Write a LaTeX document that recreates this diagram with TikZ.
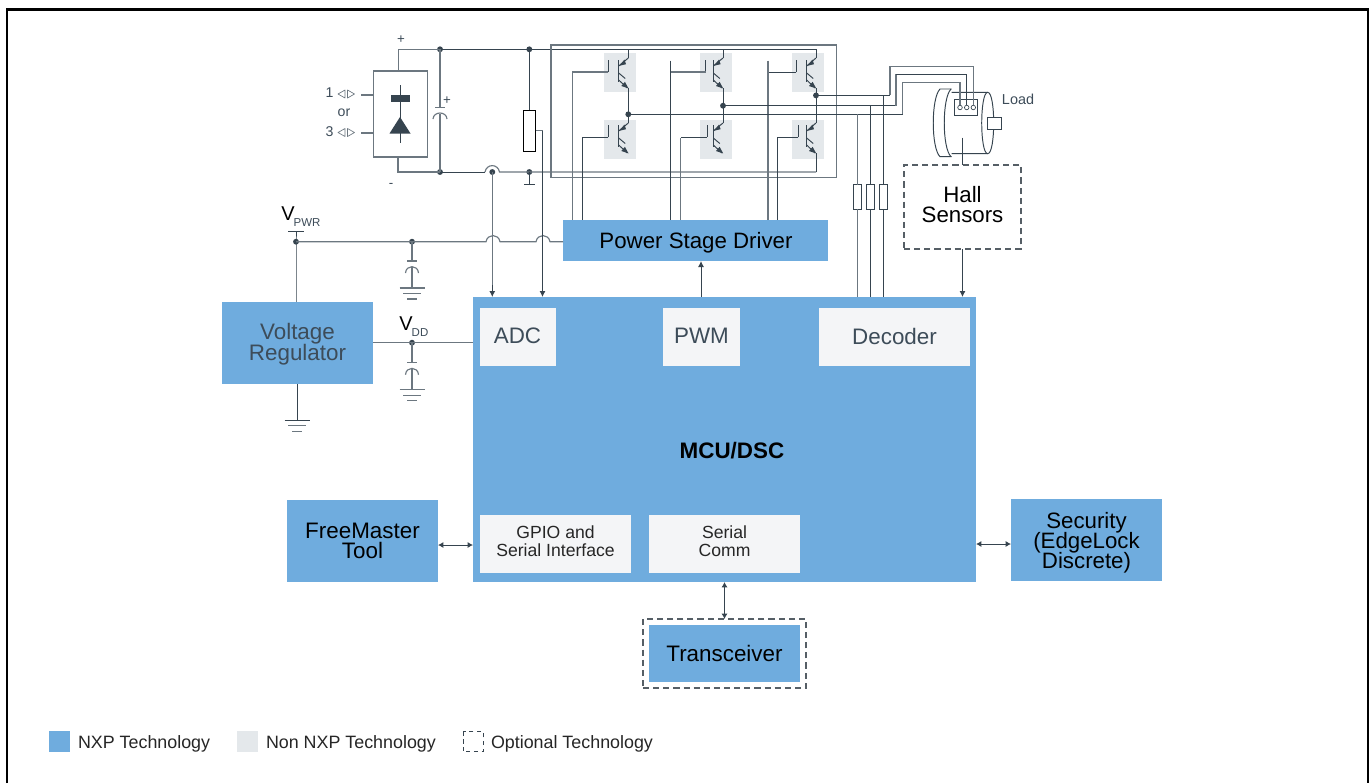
\documentclass[tikz,border=0pt]{standalone}
\usepackage{fontspec}
\setmainfont{Liberation Sans}
\usetikzlibrary{arrows.meta}
\definecolor{nxpblue}{HTML}{6FACDE}
\definecolor{lightbox}{HTML}{F4F5F7}
\definecolor{nonnxp}{HTML}{E4E8EB}
\definecolor{wire}{HTML}{36444F}
\definecolor{wiregrey}{HTML}{6C7780}
\definecolor{softtext}{HTML}{3D4C59}
\newcommand{\fs}[2]{\fontsize{#1}{#2}\selectfont\lineskiplimit=-20pt\relax}
\tikzset{
  sz/.style 2 args={minimum width=#1*0.75pt,minimum height=#2*0.75pt,inner sep=0pt,outer sep=0pt},
  nxpbox/.style={fill=nxpblue,text=black,align=center,font=\fs{16.8}{15}},
  chiplabel/.style={inner sep=0pt,outer sep=0pt,text=softtext,font=\fs{16.8}{15}},
  smalltext/.style={inner sep=0pt,outer sep=0pt,text=black!85,align=center,font=\fs{13.2}{13.4}},
  dashbox/.style={draw=wiregrey!80!black,line width=0.8pt,dash pattern=on 4.6pt off 3pt},
  wr/.style={draw=wire,line width=0.72pt},
  wg/.style={draw=wiregrey,line width=0.85pt},
  arr/.style={wr,-{Latex[length=4.5pt,width=4.5pt]}},
  darr/.style={wr,{Latex[length=4pt,width=4.5pt]}-{Latex[length=4pt,width=4.5pt]}},
  dot/.style={circle,fill=wire,inner sep=0pt,minimum size=4.4pt,outer sep=0pt},
  txt/.style={inner sep=0pt,outer sep=0pt,text=black},
  legend/.style={inner sep=0pt,outer sep=0pt,anchor=west,text=black!85,font=\fs{13.4}{15}},
  tri/.style={fill=wire,draw=none}
}
% switch: #1 collector x, #2 bar x, #3 gate x, #4 collector start y
\newcommand{\igbt}[4]{%
  \draw[wr] (#3,#4+2) -- (#3,#4+14);
  \draw[wr,line width=0.9pt] (#2,#4+2) -- (#2,#4+24);
  \draw[wr] (#1,#4) -- (#2,#4+8);
  \fill[tri] (#2+0.5,#4+7.8) -- (#2+5.8,#4+1.5) -- (#2+7.3,#4+6.2) -- cycle;
  \draw[wr] (#2,#4+15) -- (#2+6.5,#4+20.5);
  \draw[wr] (#2,#4+22) -- (#1-1,#4+30);
  \fill[tri] (#1+0.2,#4+30.4) -- (#1-7,#4+28) -- (#1-3.4,#4+23.8) -- cycle;
}
% capacitor with ground: #1 x, #2 top y, #3 plate y
\newcommand{\capgnd}[3]{%
  \draw[wg] (#1,#2) -- (#1,#3);
  \draw[wg] (#1-5,#3) -- (#1+5,#3);
  \draw[wg] (#1-6.5,#3+12) .. controls (#1-6,#3+3.5) and (#1+6,#3+3.5) .. (#1+6.5,#3+12);
  \draw[wg] (#1,#3+6) -- (#1,#3+27);
  \draw[wg] (#1-12.5,#3+27) -- (#1+12.5,#3+27);
  \draw[wg] (#1-9,#3+32.5) -- (#1+9,#3+32.5);
  \draw[wg] (#1-5,#3+38) -- (#1+5,#3+38);
}
\begin{document}
\begin{tikzpicture}[x=0.75pt,y=-0.75pt]
\useasboundingbox (0,0) rectangle (1370,783);
\fill[white] (0,0) rectangle (1370,783);
% frame
\draw[black,line width=2pt] (7,783) -- (7,9.5) -- (1368,9.5) -- (1368,783);

% switch backgrounds
\foreach \gx in {604,700,792}{
  \fill[nonnxp] (\gx,53) rectangle (\gx+32,92);
  \fill[nonnxp] (\gx,120) rectangle (\gx+32,158.5);
}

% blocks
\node[sz={503}{285},fill=nxpblue] (mcu) at (724.5,439.5) {};
\node[txt,font=\bfseries\fs{16.8}{15}] (mculabel) at (732,450.5) {MCU/DSC};
\node[sz={265}{41},fill=nxpblue] (driver) at (695.5,240.5) {};
\node[txt,font=\fs{16.7}{15}] (driverlabel) at (696,243) {Power Stage Driver};
\node[sz={151}{82},fill=nxpblue] (vreg) at (297.5,343) {};
\node[txt,text=softtext,align=center,font=\fs{16.8}{15.7}] (vreglabel) at (297.5,344.5) {Voltage\\Regulator};
\node[sz={76}{58},fill=lightbox] (adc) at (518,337) {};
\node[chiplabel] (adclabel) at (517.5,336) {ADC};
\node[sz={77}{58},fill=lightbox] (pwm) at (701.5,337) {};
\node[chiplabel] (pwmlabel) at (701.5,336) {PWM};
\node[sz={151}{58},fill=lightbox] (decoder) at (894.5,337) {};
\node[chiplabel] (decoderlabel) at (894.5,336) {Decoder};
\node[sz={151}{58},fill=lightbox] (gpio) at (555.5,544) {};
\node[smalltext] (gpiolabel) at (555.5,541) {GPIO and\\Serial Interface};
\node[sz={151}{58},fill=lightbox] (serial) at (724.5,544) {};
\node[smalltext] (seriallabel) at (724.5,541) {Serial\\Comm};
\node[sz={151}{82},nxpbox] (free) at (362.5,541) {FreeMaster\\Tool};
\node[sz={151}{82},fill=nxpblue] (sec) at (1086.5,540) {};
\node[txt,align=center,font=\fs{16.7}{15}] (seclabel) at (1086.5,543) {Security\\(EdgeLock\\Discrete)};
\node[sz={151}{57},nxpbox] (trans) at (724.5,653.5) {Transceiver};
\node[sz={163}{69},dashbox] (transopt) at (724.5,653.5) {};
\node[sz={117}{84},dashbox] (hall) at (962.5,207) {};
\node[txt,align=center,font=\fs{16.7}{15}] (halllabel) at (962.5,205) {Hall\\Sensors};

% rectifier
\node[sz={54}{86},draw=wiregrey,line width=0.85pt] (rect) at (400.5,114) {};
\coordinate (lead1) at (361,95);
\coordinate (lead3) at (361,133);
\draw[wg] (lead1) -- (lead1 -| rect.west);
\draw[wg] (lead3) -- (lead3 -| rect.west);
\draw[wr] (400,85) -- (400,143);
\fill[wire] (391,95) rectangle (409.5,102);
\fill[wire] (400,117) -- (410.5,133.5) -- (389.5,133.5) -- cycle;
\node[txt,font=\fs{10.6}{12},text=softtext] (in1) at (329.5,93) {1};
\node[txt,font=\fs{10.6}{12},text=softtext] (or) at (344,113) {or};
\node[txt,font=\fs{10.6}{12},text=softtext] (in3) at (329.5,132) {3};
\foreach \ty in {94,132.5}{
  \draw[wiregrey,line width=0.5pt,line join=round] (345,\ty-4) -- (338,\ty) -- (345,\ty+4) -- cycle;
  \draw[wiregrey,line width=0.5pt,line join=round] (347.5,\ty-4) -- (354.5,\ty) -- (347.5,\ty+4) -- cycle;
}
\node[txt,font=\fs{10}{10},text=softtext] (plus) at (401,40) {+};
\node[txt,font=\fs{10}{10},text=softtext] (minus) at (391,185) {-};
\node[txt,font=\fs{10}{10},text=softtext] (capplus) at (447,101) {+};

% rails
\node[dot] (t1) at (440,49.3) {};
\node[dot] (t2) at (529.3,49.3) {};
\node[dot] (b1) at (440,172) {};
\node[dot] (b2) at (529.3,172) {};
\node[dot] (badc) at (492.3,172) {};
\draw[wg] (rect.north -| 398.7,0) -- (398.7,49.3) -- (t1.center);
\draw[wr] (t1.center) -- (t2.center) -- (816,49.3);
\draw[wg] (398,157) -- (398,172) -- (b1.center);
\draw[wr] (b1.center) -- (485,172);
\draw[wg] (485,172) .. controls (486.5,163.5) and (498,163.5) .. (499.5,172) -- (b2.center) -- (816,172);
% DC link capacitor
\draw[wg] (t1.center) -- (440,107.7);
\draw[wg] (435,107.7) -- (445,107.7);
\draw[wg] (433,119) .. controls (433.5,111) and (446.5,111) .. (447,119);
\draw[wg] (440,113.5) -- (b1.center);

% shunt
\node[sz={12.5}{41},draw=black,line width=0.7pt,fill=white] (shunt) at (529.3,130.5) {};
\draw[wr] (t2.center) -- (shunt.north);
\draw[wr] (b2.center) -- (529.3,184.5);
\draw[wr] (524,184.5) -- (534.5,184.5);

% outer enclosure
\draw[wiregrey,line width=0.95pt] (551,45) rectangle (836.7,177.7);

% switches
\igbt{628.3}{618.7}{608.3}{58}
\igbt{628.3}{618.7}{608.3}{123}
\igbt{723}{713.3}{705.7}{58}
\igbt{723}{713.3}{707}{123}
\igbt{816}{806.7}{796.3}{58}
\igbt{816}{806.7}{798.3}{123}
% phase nodes
\node[dot] (ph1) at (628.3,114.3) {};
\node[dot] (ph2) at (723,105.7) {};
\node[dot] (ph3) at (816,95.4) {};
\draw[wr] (628.3,49.3) -- (628.3,58);
\draw[wr] (723,49.3) -- (723,58);
\draw[wr] (816,49.3) -- (816,58);
\draw[wr] (628.3,88) -- (ph1.center) -- (628.3,123);
\draw[wr] (723,88) -- (ph2.center) -- (723,123);
\draw[wr] (816,88) -- (ph3.center) -- (816,123);
\draw[wr] (816,153) -- (816,172);
% gates
\draw[wg] (608.3,72) -- (572.7,72) -- (572.7,220);
\draw[wr] (608.3,137.7) -- (582,137.7) -- (582,220);
\draw[wg] (705.7,72) -- (670.3,72);
\draw[wr] (670.3,60.7) -- (670.3,220);
\draw[wr] (707,137.7) -- (680.7,137.7);
\draw[wg] (680.7,137.7) -- (680.7,220);
\draw[wr] (796.3,72) -- (768,72);
\draw[wg] (768,60.7) -- (768,220);
\draw[wr] (798.3,137.7) -- (777.3,137.7) -- (777.3,220);

% motor
\draw[wr,fill=white] (951.7,92.3) -- (987.7,92.3) .. controls (995.7,92.3) and (995.7,153.7) .. (987.7,153.7) -- (951.7,153.7);
\draw[wr] (987.7,92.3) .. controls (979.7,92.3) and (979.7,153.7) .. (987.7,153.7);
\draw[wr] (951.7,89) -- (940,89) .. controls (931,98) and (931,148) .. (940,156.7) -- (951.7,156.7);
\draw[wr] (951,89) .. controls (942,98) and (942,148) .. (951,156.7);
\node[sz={14.5}{11.5},draw=wire,line width=0.72pt,fill=white] (shaft) at (994.7,123.3) {};
\node[txt,font=\fs{10.8}{12},text=softtext] (load) at (1018,99) {Load};
\node[sz={23}{16},draw=wire,line width=0.72pt,fill=white] (term) at (966.3,107.2) {};
\foreach \px/\pn in {960/pa,966.7/pb,973.3/pc}{
  \node[circle,draw=wire,line width=0.5pt,inner sep=0pt,minimum size=3.4pt] (\pn) at (\px,107.5) {};
}
% phase outputs
\draw[wr] (ph3.center) -- (890,95.4);
\draw[wg] (890,95.4) -- (890,66.7) -- (973.3,66.7) -- (pc.north);
\draw[wr] (ph2.center) -- (896,105.7);
\draw[wg] (896,105.7) -- (896,74.3);
\draw[wr] (896,74.3) -- (966.7,74.3) -- (pb.north);
\draw[wr] (ph1.center) -- (902.7,114.3);
\draw[wg] (902.7,114.3) -- (902.7,82.3) -- (960,82.3) -- (pa.north);
% sense resistors
\node[sz={8}{24.5},draw=wire,line width=0.72pt,fill=white] (r1) at (857.7,197.2) {};
\node[sz={8}{24.5},draw=wire,line width=0.72pt,fill=white] (r2) at (870.7,197.2) {};
\node[sz={8}{24.5},draw=wire,line width=0.72pt,fill=white] (r3) at (883.3,197.2) {};
\draw[wg] (857.7,114.3) -- (r1.north);
\draw[wr] (870.7,105.7) -- (r2.north);
\draw[wr] (883.3,95.4) -- (r3.north);
\draw[wg] (r1.south) -- (r1.south |- mcu.north);
\draw[wr] (r2.south) -- (r2.south |- mcu.north);
\draw[wr] (r3.south) -- (r3.south |- mcu.north);
% hall
\coordinate (hallin) at (962.3,137.7);
\draw[wr] (hallin) -- (hallin |- hall.north);
\draw[arr] (hall.south) -- (hall.south |- mcu.north);

% VPWR
\node[dot] (vp) at (296,241.7) {};
\node[dot] (vc) at (412,241.7) {};
\draw[wr] (vreg.north -| vp) -- (vp.center) -- (296,231);
\draw[wr] (288,231) -- (304,231);
\draw[wg] (vp.center) -- (vc.center) -- (486,241.7) .. controls (487.5,233.5) and (498.5,233.5) .. (500,241.7) -- (536,241.7) .. controls (537.5,233.5) and (548.5,233.5) .. (550,241.7) -- (driver.west |- vp);
\capgnd{412}{241.7}{261}
\node[txt,font=\fs{15}{15}] (vpwr) at (288,214) {V};
\node[txt,font=\fs{8.6}{10},text=softtext] (vpwrsub) at (307,222.3) {PWR};
% VDD
\node[dot] (vd) at (412,342.7) {};
\draw[wg] (vd -| vreg.east) -- (vd.center) -- (vd -| mcu.west);
\capgnd{412}{342.7}{362.7}
\node[txt,font=\fs{15}{15}] (vdd) at (406,324) {V};
\node[txt,font=\fs{8.6}{10},text=softtext] (vddsub) at (420,332.3) {DD};
% regulator ground
\coordinate (vgnd) at (297,420.3);
\draw[wr] (vgnd |- vreg.south) -- (vgnd);
\draw[wr] (284.5,420.3) -- (309.5,420.3);
\draw[wg] (288,425.7) -- (306,425.7);
\draw[wg] (292,431.5) -- (302,431.5);

% ADC feeds
\draw[wg] (badc.center) -- (492.3,290);
\draw[arr] (492.3,285) -- (492.3,297);
\coordinate (tap) at (542.5,130.5);
\draw[wg] (shunt.east |- tap) -- (tap);
\draw[arr] (tap) -- (tap |- mcu.north);
% PWM to driver
\draw[arr] (701,297) -- (701,261);
% bidirectional links
\draw[darr] (free.east |- 0,545) -- (mcu.west |- 0,545);
\draw[darr] (mcu.east |- 0,544) -- (sec.west |- 0,544);
\draw[darr] (serial.south |- mcu.south) -- (serial.south |- transopt.north);

% legend
\fill[nxpblue] (49,731) rectangle (70,752);
\node[legend] (l1) at (78,744) {NXP Technology};
\fill[nonnxp] (237,731) rectangle (258,752);
\node[legend] (l2) at (266,744) {Non NXP Technology};
\draw[wire,line width=0.7pt,dash pattern=on 3.2pt off 2.6pt] (463,731.5) rectangle (483,751.5);
\node[legend] (l3) at (491,744) {Optional Technology};
\end{tikzpicture}
\end{document}
